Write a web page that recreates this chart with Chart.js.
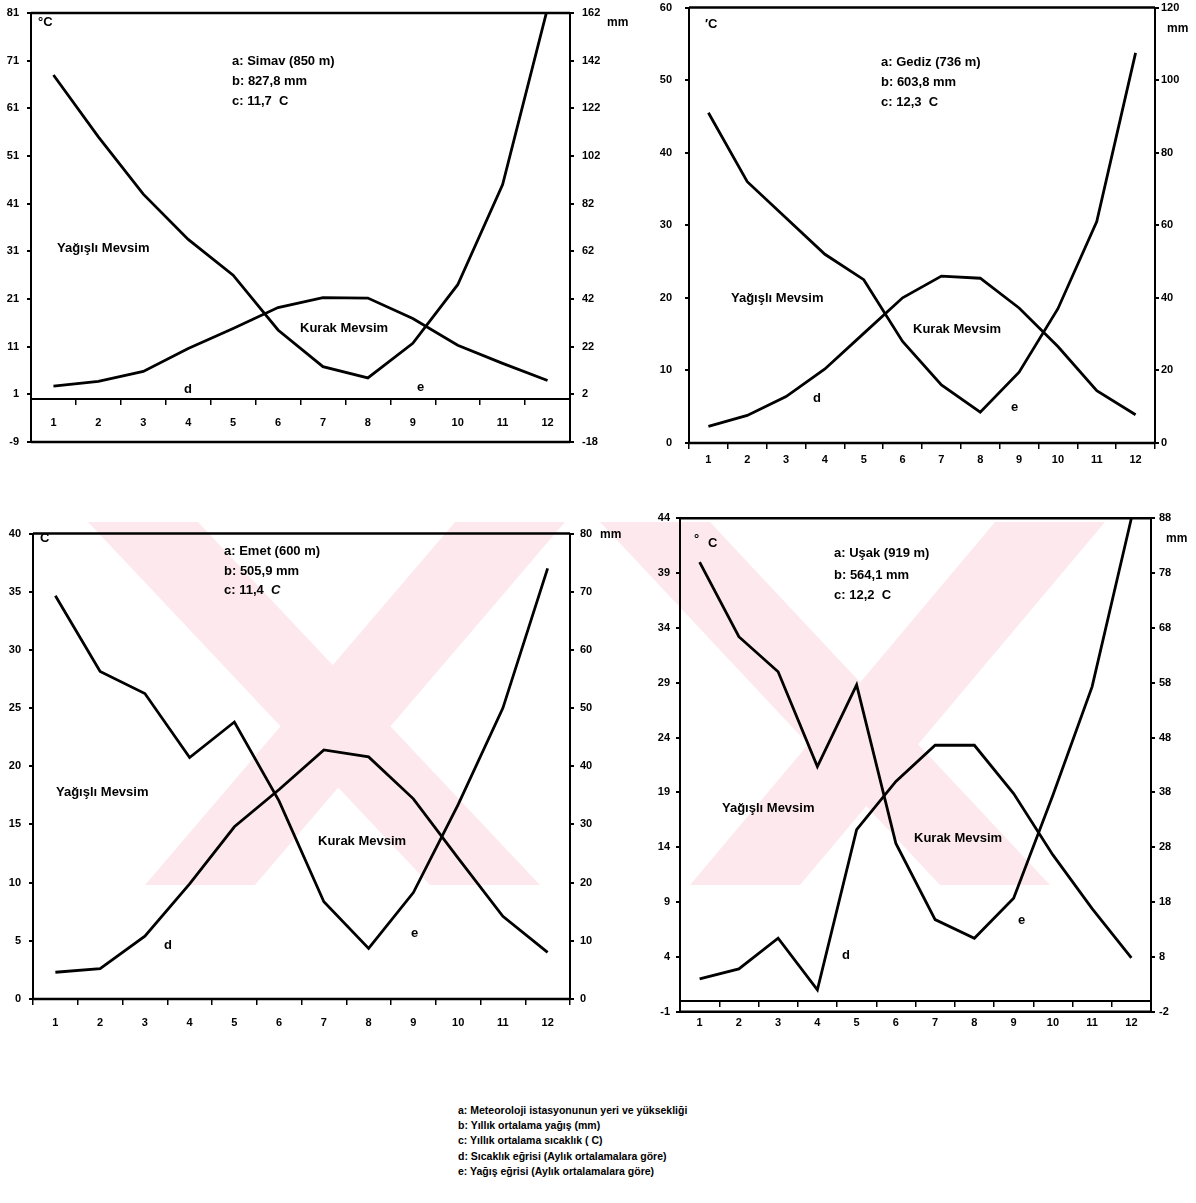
<!DOCTYPE html>
<html>
<head>
<meta charset="utf-8">
<script src="https://cdn.jsdelivr.net/npm/chart.js@4.4.0/dist/chart.umd.min.js"></script>
<style>
  body { margin: 0; background: #fff; }
  #page { position: relative; width: 1196px; height: 1203px; overflow: hidden;
          font-family: "Liberation Sans", Arial, sans-serif; font-weight: bold; color: #000; }
  #page canvas { position: absolute; }
  .t { position: absolute; white-space: nowrap; font-size: 13px; line-height: 16px; }
  .s { font-size: 12px; }
  .leg { position: absolute; left: 458px; white-space: nowrap; font-size: 10.5px; line-height: 13px; }
</style>
</head>
<body>
<div id="page">
  <!-- faint watermark behind the lower charts -->
  <svg width="1196" height="1203" style="position:absolute;left:0;top:0">
    <g fill="#fde9ed">
      <polygon points="88,522 198,522 540,885 430,885"/>
      <polygon points="455,522 565,522 255,885 145,885"/>
      <polygon points="600,522 710,522 1050,885 940,885"/>
      <polygon points="995,522 1105,522 800,885 690,885"/>
    </g>
  </svg>

  <canvas id="chart__1" width="640" height="470" style="left:0;top:0"></canvas>
  <canvas id="chart__2" width="596" height="480" style="left:600px;top:0"></canvas>
  <canvas id="chart__3" width="640" height="545" style="left:0;top:500px"></canvas>
  <canvas id="chart__4" width="596" height="545" style="left:600px;top:500px"></canvas>

  <!-- Simav -->
  <div class="t" style="left:38px;top:14px">°C</div>
  <div class="s t" style="left:607px;top:14px">mm</div>
  <div class="t" style="left:232px;top:53px">a: Simav (850 m)</div>
  <div class="t" style="left:232px;top:73px">b: 827,8 mm</div>
  <div class="t" style="left:232px;top:93px">c: 11,7&nbsp; C</div>
  <div class="t" style="left:57px;top:240px">Yağışlı Mevsim</div>
  <div class="t" style="left:300px;top:320px">Kurak Mevsim</div>
  <div class="t" style="left:184px;top:381px">d</div>
  <div class="t" style="left:417px;top:379px">e</div>

  <!-- Gediz -->
  <div class="t" style="left:705px;top:16px">′C</div>
  <div class="s t" style="left:1167px;top:20px">mm</div>
  <div class="t" style="left:881px;top:54px">a: Gediz (736 m)</div>
  <div class="t" style="left:881px;top:74px">b: 603,8 mm</div>
  <div class="t" style="left:881px;top:94px">c: 12,3&nbsp; C</div>
  <div class="t" style="left:731px;top:290px">Yağışlı Mevsim</div>
  <div class="t" style="left:913px;top:321px">Kurak Mevsim</div>
  <div class="t" style="left:813px;top:390px">d</div>
  <div class="t" style="left:1011px;top:399px">e</div>

  <!-- Emet -->
  <div class="t" style="left:40px;top:530px">C</div>
  <div class="s t" style="left:600px;top:526px">mm</div>
  <div class="t" style="left:224px;top:543px">a: Emet (600 m)</div>
  <div class="t" style="left:224px;top:563px">b: 505,9 mm</div>
  <div class="t" style="left:224px;top:582px">c: 11,4&nbsp; <i>C</i></div>
  <div class="t" style="left:56px;top:784px">Yağışlı Mevsim</div>
  <div class="t" style="left:318px;top:833px">Kurak Mevsim</div>
  <div class="t" style="left:164px;top:937px">d</div>
  <div class="t" style="left:411px;top:925px">e</div>

  <!-- Uşak -->
  <div class="t" style="left:694px;top:531px">°</div>
  <div class="t" style="left:708px;top:535px">C</div>
  <div class="s t" style="left:1166px;top:530px">mm</div>
  <div class="t" style="left:834px;top:545px">a: Uşak (919 m)</div>
  <div class="t" style="left:834px;top:567px">b: 564,1 mm</div>
  <div class="t" style="left:834px;top:587px">c: 12,2&nbsp; C</div>
  <div class="t" style="left:722px;top:800px">Yağışlı Mevsim</div>
  <div class="t" style="left:914px;top:830px">Kurak Mevsim</div>
  <div class="t" style="left:842px;top:947px">d</div>
  <div class="t" style="left:1018px;top:912px">e</div>

  <div class="leg" style="top:1104px">a: Meteoroloji istasyonunun yeri ve yüksekliği</div>
  <div class="leg" style="top:1119px">b: Yıllık ortalama yağış (mm)</div>
  <div class="leg" style="top:1134px">c: Yıllık ortalama sıcaklık ( C)</div>
  <div class="leg" style="top:1150px">d: Sıcaklık eğrisi (Aylık ortalamalara göre)</div>
  <div class="leg" style="top:1165px">e: Yağış eğrisi (Aylık ortalamalara göre)</div>
</div>

<script>
"use strict";

// ** Data (temperature in C, rainfall in mm, by month)
const months = ["1", "2", "3", "4", "5", "6", "7", "8", "9", "10", "11", "12"];

const simavTemp = [2.7, 3.7, 5.8, 10.6, 14.8, 19.2, 21.3, 21.2, 16.9, 11.3, 7.5, 3.9];
const simavRain = [136, 110, 86, 67, 52, 29, 13.6, 8.9, 23.4, 48, 90, 164];

const gedizTemp = [2.3, 3.8, 6.4, 10.2, 15.1, 20.0, 23.0, 22.7, 18.6, 13.3, 7.2, 3.9];
const gedizRain = [91, 72, 62, 52, 45, 28, 16, 8.5, 19.5, 37, 61, 107.5];

const emetTemp = [2.3, 2.6, 5.4, 9.9, 14.8, 18.0, 21.4, 20.8, 17.2, 12.1, 7.1, 4.0];
const emetRain = [69.3, 56.3, 52.5, 41.5, 47.6, 34, 16.7, 8.7, 18.3, 33.4, 50, 74];

const usakTemp = [2.0, 2.9, 5.7, 1.0, 15.6, 20.0, 23.3, 23.3, 18.9, 13.3, 8.4, 3.9];
const usakRain = [80, 66.4, 60, 42.7, 57.6, 28.7, 14.8, 11.4, 18.7, 37.5, 57.3, 88];

// ** Tick labels
const simavTempTicks = [-9, 1, 11, 21, 31, 41, 51, 61, 71, 81];
const simavRainTicks = [-18, 2, 22, 42, 62, 82, 102, 122, 142, 162];
const gedizTempTicks = [0, 10, 20, 30, 40, 50, 60];
const gedizRainTicks = [0, 20, 40, 60, 80, 100, 120];
const emetTempTicks = [0, 5, 10, 15, 20, 25, 30, 35, 40];
const emetRainTicks = [0, 10, 20, 30, 40, 50, 60, 70, 80];
const usakTempTicks = [-1, 4, 9, 14, 19, 24, 29, 34, 39, 44];
const usakRainTicks = [-2, 8, 18, 28, 38, 48, 58, 68, 78, 88];

const tickFont = { family: "'Liberation Sans', Arial, sans-serif", weight: "bold", size: 11 };

// frame line on top and bottom of the plot area
const framePlugin = {
  id: "frame",
  afterDraw: (chart) => {
    const { ctx, chartArea } = chart;
    ctx.save();
    ctx.strokeStyle = "#000";
    ctx.lineWidth = 2.5;
    ctx.beginPath();
    ctx.moveTo(chartArea.left, chartArea.top);
    ctx.lineTo(chartArea.right, chartArea.top);
    ctx.moveTo(chartArea.left, chartArea.bottom);
    ctx.lineTo(chartArea.right, chartArea.bottom);
    ctx.stroke();
    ctx.restore();
  },
};

function yAxis(side, ticks, width, pad) {
  return {
    position: side,
    min: ticks[0],
    max: ticks[ticks.length - 1],
    afterBuildTicks: (s) => {
      s.ticks = ticks.map((v) => ({ value: v }));
    },
    afterFit: (s) => {
      s.width = width;
      s.paddingTop = 0;
      s.paddingBottom = 0;
    },
    grid: { drawOnChartArea: false, color: "#000", lineWidth: 2, tickLength: 4 },
    border: { color: "#000", width: 2 },
    ticks: { color: "#000", font: tickFont, padding: pad },
  };
}

function buildChart(id, temp, rain, tTicks, rTicks, box) {
  const canvas = document.getElementById(id);
  const H = canvas.height;
  const config = {
    type: "line",
    data: {
      labels: months,
      datasets: [
        { label: "d", data: temp, yAxisID: "y", borderColor: "#000", borderWidth: 2.8, pointRadius: 0, tension: 0 },
        { label: "e", data: rain, yAxisID: "y1", borderColor: "#000", borderWidth: 2.8, pointRadius: 0, tension: 0 },
      ],
    },
    options: {
      responsive: false,
      animation: false,
      events: [],
      layout: { padding: { top: box.top, bottom: H - box.bottom, left: 0, right: 0 } },
      plugins: { legend: { display: false }, tooltip: { enabled: false } },
      scales: {
        x: {
          type: "category",
          offset: true,
          position: { y: 0 },
          afterFit: (s) => {
            s.height = 0;
            s.paddingTop = 0;
            s.paddingBottom = 0;
          },
          grid: { offset: true, drawOnChartArea: false, color: "#000", lineWidth: 1.5, tickLength: 5 },
          border: { color: "#000", width: 2 },
          ticks: { color: "#000", font: tickFont, padding: box.xPad, maxRotation: 0, autoSkip: false },
        },
        y: yAxis("left", tTicks, box.left, box.lPad),
        y1: yAxis("right", rTicks, box.right, box.rPad),
      },
    },
    plugins: [framePlugin],
  };
  return new Chart(canvas, config);
}

buildChart("chart__1", simavTemp, simavRain, simavTempTicks, simavRainTicks,
  { left: 31, right: 70, top: 13, bottom: 442, xPad: 12, lPad: 8, rPad: 8 });
buildChart("chart__2", gedizTemp, gedizRain, gedizTempTicks, gedizRainTicks,
  { left: 89, right: 41, top: 7.5, bottom: 443, xPad: 5, lPad: 13, rPad: 2 });
buildChart("chart__3", emetTemp, emetRain, emetTempTicks, emetRainTicks,
  { left: 33, right: 70, top: 33.5, bottom: 499, xPad: 12, lPad: 8, rPad: 6 });
buildChart("chart__4", usakTemp, usakRain, usakTempTicks, usakRainTicks,
  { left: 80, right: 45, top: 18.3, bottom: 511.7, xPad: 11, lPad: 6, rPad: 4 });
</script>
</body>
</html>
